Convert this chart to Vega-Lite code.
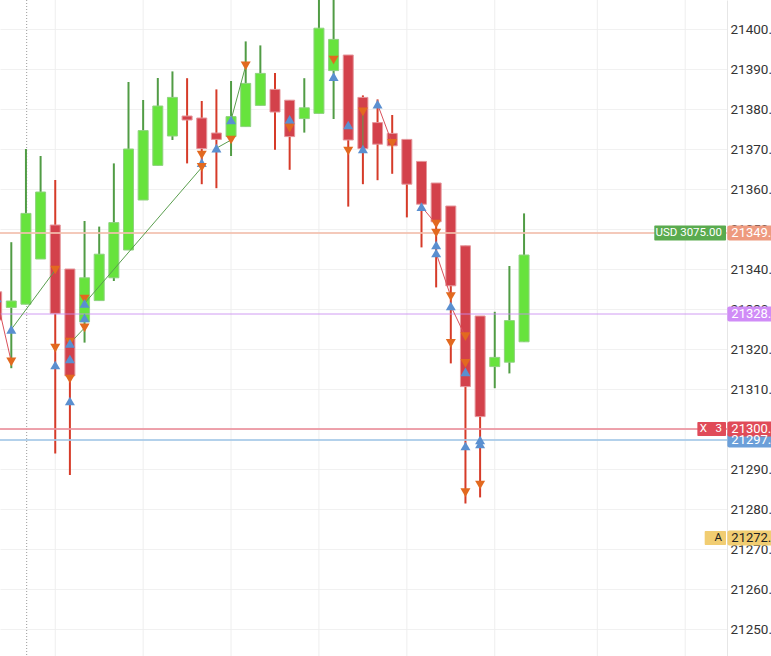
{
  "$schema": "https://vega.github.io/schema/vega-lite/v6.json",
  "description": "Candlestick chart with trade markers and price levels",
  "width": 727,
  "height": 656,
  "autosize": {"type": "none"},
  "padding": {"left": 0, "top": 0, "right": 44, "bottom": 0},
  "background": "white",
  "datasets": {
    "candles": [
      {"i": 0, "o": 21334.3, "h": 21335.5, "l": 21326, "c": 21327.25},
      {"i": 1, "o": 21330.4, "h": 21346.7, "l": 21315.2, "c": 21332},
      {"i": 2, "o": 21331.2, "h": 21370, "l": 21331.2, "c": 21353.9},
      {"i": 3, "o": 21342.5, "h": 21368.25, "l": 21342.5, "c": 21359.25},
      {"i": 4, "o": 21351, "h": 21362.25, "l": 21293.9, "c": 21328.9},
      {"i": 5, "o": 21340, "h": 21340, "l": 21288.5, "c": 21313.3},
      {"i": 6, "o": 21326.8, "h": 21352, "l": 21321.6, "c": 21337.8},
      {"i": 7, "o": 21332.1, "h": 21350.6, "l": 21332.1, "c": 21343.7},
      {"i": 8, "o": 21337.8, "h": 21366.4, "l": 21337, "c": 21351.6},
      {"i": 9, "o": 21344.75, "h": 21386.75, "l": 21344.75, "c": 21370},
      {"i": 10, "o": 21357.25, "h": 21382.25, "l": 21357.25, "c": 21374.6},
      {"i": 11, "o": 21365.9, "h": 21387.75, "l": 21365.9, "c": 21380.75},
      {"i": 12, "o": 21373.25, "h": 21389.4, "l": 21372.25, "c": 21382.9},
      {"i": 13, "o": 21378.25, "h": 21387.7, "l": 21366.4, "c": 21377.25},
      {"i": 14, "o": 21377.75, "h": 21382, "l": 21361.2, "c": 21370.1},
      {"i": 15, "o": 21374, "h": 21384.9, "l": 21360.2, "c": 21372.4},
      {"i": 16, "o": 21373.1, "h": 21387, "l": 21368.25, "c": 21378.1},
      {"i": 17, "o": 21375.6, "h": 21396.9, "l": 21375.6, "c": 21386.4},
      {"i": 18, "o": 21380.9, "h": 21395.9, "l": 21380.9, "c": 21388.9},
      {"i": 19, "o": 21384.9, "h": 21389, "l": 21369.8, "c": 21379.25},
      {"i": 20, "o": 21382.2, "h": 21382.2, "l": 21364.8, "c": 21373.1},
      {"i": 21, "o": 21377.6, "h": 21387.7, "l": 21374.1, "c": 21380.3},
      {"i": 22, "o": 21378.9, "h": 21412, "l": 21378.9, "c": 21400.2},
      {"i": 23, "o": 21389.6, "h": 21413, "l": 21377.5, "c": 21397.4},
      {"i": 24, "o": 21393.5, "h": 21393.5, "l": 21355.6, "c": 21372.25},
      {"i": 25, "o": 21382.9, "h": 21383.4, "l": 21361.2, "c": 21370.1},
      {"i": 26, "o": 21376.6, "h": 21382.4, "l": 21362.2, "c": 21371.2},
      {"i": 27, "o": 21373.9, "h": 21378.5, "l": 21363.8, "c": 21370.8},
      {"i": 28, "o": 21372.4, "h": 21372.4, "l": 21352.9, "c": 21361.2},
      {"i": 29, "o": 21366.9, "h": 21366.9, "l": 21345.4, "c": 21356.2},
      {"i": 30, "o": 21361.5, "h": 21361.5, "l": 21335.4, "c": 21351.8},
      {"i": 31, "o": 21355.75, "h": 21355.75, "l": 21316.4, "c": 21335.8},
      {"i": 32, "o": 21345.8, "h": 21345.8, "l": 21281.4, "c": 21310.6},
      {"i": 33, "o": 21328.25, "h": 21328.25, "l": 21282.9, "c": 21303.1},
      {"i": 34, "o": 21315.6, "h": 21329.3, "l": 21310.2, "c": 21317.9},
      {"i": 35, "o": 21316.7, "h": 21340.75, "l": 21313.9, "c": 21327.1},
      {"i": 36, "o": 21321.8, "h": 21353.9, "l": 21321.8, "c": 21343.5}
    ],
    "fills": [
      {"i": 0, "p": 21332.75, "side": "buy"},
      {"i": 1, "p": 21324.9, "side": "buy"},
      {"i": 1, "p": 21316.8, "side": "sell"},
      {"i": 4, "p": 21339.75, "side": "sell"},
      {"i": 4, "p": 21320.2, "side": "sell"},
      {"i": 4, "p": 21316, "side": "buy"},
      {"i": 5, "p": 21321.75, "side": "sell"},
      {"i": 5, "p": 21321.4, "side": "buy"},
      {"i": 5, "p": 21317.5, "side": "buy"},
      {"i": 5, "p": 21312.5, "side": "sell"},
      {"i": 5, "p": 21307, "side": "buy"},
      {"i": 6, "p": 21332.5, "side": "sell"},
      {"i": 6, "p": 21331.4, "side": "buy"},
      {"i": 6, "p": 21327.8, "side": "buy"},
      {"i": 6, "p": 21325.3, "side": "sell"},
      {"i": 14, "p": 21368.5, "side": "sell"},
      {"i": 14, "p": 21366.6, "side": "buy"},
      {"i": 14, "p": 21365.4, "side": "sell"},
      {"i": 15, "p": 21370.2, "side": "buy"},
      {"i": 16, "p": 21377.25, "side": "buy"},
      {"i": 16, "p": 21372.25, "side": "sell"},
      {"i": 17, "p": 21390.8, "side": "sell"},
      {"i": 20, "p": 21377.4, "side": "buy"},
      {"i": 20, "p": 21375.2, "side": "sell"},
      {"i": 23, "p": 21392.25, "side": "sell"},
      {"i": 23, "p": 21388.1, "side": "buy"},
      {"i": 24, "p": 21376, "side": "buy"},
      {"i": 24, "p": 21369.5, "side": "sell"},
      {"i": 25, "p": 21379.3, "side": "sell"},
      {"i": 25, "p": 21370, "side": "buy"},
      {"i": 26, "p": 21381.2, "side": "buy"},
      {"i": 27, "p": 21371.4, "side": "sell"},
      {"i": 29, "p": 21355.6, "side": "buy"},
      {"i": 30, "p": 21351.25, "side": "sell"},
      {"i": 30, "p": 21349, "side": "sell"},
      {"i": 30, "p": 21346, "side": "buy"},
      {"i": 30, "p": 21344, "side": "buy"},
      {"i": 31, "p": 21333.1, "side": "sell"},
      {"i": 31, "p": 21330.75, "side": "buy"},
      {"i": 31, "p": 21321.4, "side": "sell"},
      {"i": 32, "p": 21323.1, "side": "sell"},
      {"i": 32, "p": 21316.4, "side": "sell"},
      {"i": 32, "p": 21314.3, "side": "buy"},
      {"i": 32, "p": 21295.75, "side": "buy"},
      {"i": 32, "p": 21284.1, "side": "sell"},
      {"i": 33, "p": 21297.25, "side": "buy"},
      {"i": 33, "p": 21296.25, "side": "buy"},
      {"i": 33, "p": 21286, "side": "sell"}
    ],
    "trades": [
      {"id": 1, "i": 0, "p": 21332.75, "result": "loss"},
      {"id": 1, "i": 1, "p": 21316.8, "result": "loss"},
      {"id": 2, "i": 1, "p": 21324.9, "result": "win"},
      {"id": 2, "i": 4, "p": 21339.75, "result": "win"},
      {"id": 3, "i": 5, "p": 21321.4, "result": "win"},
      {"id": 3, "i": 6, "p": 21325.3, "result": "win"},
      {"id": 4, "i": 6, "p": 21331.4, "result": "win"},
      {"id": 4, "i": 14, "p": 21365.4, "result": "win"},
      {"id": 5, "i": 15, "p": 21370.2, "result": "win"},
      {"id": 5, "i": 16, "p": 21372.25, "result": "win"},
      {"id": 6, "i": 16, "p": 21377.25, "result": "win"},
      {"id": 6, "i": 17, "p": 21390.8, "result": "win"},
      {"id": 7, "i": 25, "p": 21379.3, "result": "win"},
      {"id": 7, "i": 25, "p": 21370, "result": "win"},
      {"id": 8, "i": 26, "p": 21381.2, "result": "loss"},
      {"id": 8, "i": 27, "p": 21371.4, "result": "loss"},
      {"id": 9, "i": 29, "p": 21355.6, "result": "loss"},
      {"id": 9, "i": 30, "p": 21351.25, "result": "loss"},
      {"id": 10, "i": 30, "p": 21344, "result": "loss"},
      {"id": 10, "i": 31, "p": 21333.1, "result": "loss"},
      {"id": 11, "i": 31, "p": 21330.75, "result": "loss"},
      {"id": 11, "i": 32, "p": 21323.1, "result": "loss"}
    ],
    "levels": [
      {"p": 21272.75, "kind": "avg", "label": "21272.75"},
      {"p": 21297.25, "kind": "stop", "label": "21297.25"},
      {"p": 21300, "kind": "target", "label": "21300.00"},
      {"p": 21328.75, "kind": "alert", "label": "21328.75"},
      {"p": 21349, "kind": "usd", "label": "21349.00"}
    ],
    "tags": [
      {"p": 21349, "kind": "usd", "tag": "USD 3075.00"},
      {"p": 21300, "kind": "qty", "tag": "X\u00a0\u00a0\u00a03"},
      {"p": 21272.75, "kind": "avg", "tag": "A"}
    ],
    "sessions": [{"i": 4}, {"i": 10}, {"i": 16}, {"i": 22}, {"i": 28}, {"i": 34}, {"i": 41}, {"i": 47}]
  },
  "encoding": {
    "x": {"type": "quantitative", "scale": {"domain": [0.2287, 49.853], "nice": false, "zero": false, "padding": 0}, "axis": null},
    "y": {
      "type": "quantitative",
      "scale": {"domain": [21243.25, 21407.25], "nice": false, "zero": false, "padding": 0},
      "axis": {
        "orient": "right",
        "title": null,
        "values": [21250, 21260, 21270, 21280, 21290, 21300, 21310, 21320, 21330, 21340, 21350, 21360, 21370, 21380, 21390, 21400],
        "format": ".2f",
        "grid": true,
        "gridColor": "#f1f1f1",
        "ticks": false,
        "domainColor": "#e6e6e6",
        "labelFont": "Roboto",
        "labelFontSize": 13.5,
        "labelColor": "#333333",
        "labelPadding": 3,
        "labelOverlap": false,
        "labelFlush": false
      }
    }
  },
  "layer": [
    {
      "data": {"name": "sessions"},
      "mark": {"type": "rule", "color": "#eeeeee", "strokeWidth": 1},
      "encoding": {"x": {"field": "i"}}
    },
    {
      "data": {"name": "sessions"},
      "transform": [{"filter": "datum.i == 4"}],
      "mark": {"type": "rule", "color": "#9a9a9a", "strokeWidth": 1, "strokeDash": [1, 2]},
      "encoding": {"x": {"datum": 2.05}}
    },
    {
      "data": {"name": "candles"},
      "mark": {"type": "rule", "strokeWidth": 2},
      "encoding": {
        "x": {"field": "i"},
        "y": {"field": "l"},
        "y2": {"field": "h"},
        "color": {"condition": {"test": "datum.c >= datum.o", "value": "#519c45"}, "value": "#d63b29"}
      }
    },
    {
      "data": {"name": "candles"},
      "mark": {"type": "bar", "strokeWidth": 1},
      "encoding": {
        "x": {"field": "i"},
        "y": {"field": "o"},
        "y2": {"field": "c"},
        "size": {"value": 10},
        "fill": {"condition": {"test": "datum.c >= datum.o", "value": "#67e33d"}, "value": "#d3414b"},
        "stroke": {"condition": {"test": "datum.c >= datum.o", "value": "#8fd27f"}, "value": "#e5979c"}
      }
    },
    {
      "data": {"name": "levels"},
      "transform": [{"filter": "datum.kind != 'avg'"}],
      "mark": {"type": "rule", "opacity": 0.85},
      "encoding": {
        "y": {"field": "p"},
        "color": {
          "field": "kind",
          "type": "nominal",
          "scale": {"domain": ["stop", "target", "alert", "usd"], "range": ["#a6c9e8", "#eb929d", "#c98cf1", "#f2bfae"]},
          "legend": null
        },
        "strokeWidth": {"condition": {"test": "datum.kind == 'alert'", "value": 1}, "value": 2}
      }
    },
    {
      "data": {"name": "trades"},
      "mark": {"type": "line", "strokeWidth": 1},
      "encoding": {
        "x": {"field": "i"},
        "y": {"field": "p"},
        "detail": {"field": "id"},
        "color": {
          "field": "result",
          "type": "nominal",
          "scale": {"domain": ["win", "loss"], "range": ["#5a9e4e", "#d9505a"]},
          "legend": null
        }
      }
    },
    {
      "data": {"name": "fills"},
      "mark": {"type": "point", "filled": true, "opacity": 1},
      "encoding": {
        "x": {"field": "i"},
        "y": {"field": "p"},
        "shape": {
          "field": "side",
          "type": "nominal",
          "scale": {"domain": ["buy", "sell"], "range": ["triangle-up", "triangle-down"]},
          "legend": null
        },
        "color": {
          "field": "side",
          "type": "nominal",
          "scale": {"domain": ["buy", "sell"], "range": ["#5a8fd0", "#e2691f"]},
          "legend": null
        },
        "size": {"value": 100}
      }
    },
    {
      "data": {"name": "levels"},
      "mark": {"type": "bar", "orient": "horizontal", "cornerRadius": 2},
      "encoding": {
        "x": {"datum": 49.875},
        "x2": {"datum": 53.5},
        "y": {"field": "p"},
        "size": {"value": 15},
        "color": {
          "field": "kind",
          "type": "nominal",
          "scale": {"domain": ["avg", "stop", "target", "alert", "usd"], "range": ["#f1cd72", "#6b9fd9", "#e04b58", "#d08cf7", "#ee9a7f"]},
          "legend": null
        }
      }
    },
    {
      "data": {"name": "levels"},
      "mark": {"type": "text", "align": "left", "baseline": "middle", "dx": 4, "font": "Roboto", "fontSize": 13},
      "encoding": {
        "x": {"datum": 49.875},
        "y": {"field": "p"},
        "text": {"field": "label"},
        "color": {"condition": {"test": "datum.kind == 'avg'", "value": "#222222"}, "value": "white"}
      }
    },
    {
      "data": {"name": "tags"},
      "transform": [{"filter": "datum.kind == 'usd'"}],
      "mark": {"type": "bar", "orient": "horizontal", "color": "#5aab4f", "cornerRadius": 1},
      "encoding": {"x": {"datum": 44.89}, "x2": {"datum": 49.785}, "y": {"field": "p"}, "size": {"value": 15}}
    },
    {
      "data": {"name": "tags"},
      "transform": [{"filter": "datum.kind == 'qty'"}],
      "mark": {"type": "bar", "orient": "horizontal", "color": "#e04b58", "cornerRadius": 1},
      "encoding": {"x": {"datum": 47.83}, "x2": {"datum": 49.785}, "y": {"field": "p"}, "size": {"value": 14}}
    },
    {
      "data": {"name": "tags"},
      "transform": [{"filter": "datum.kind == 'avg'"}],
      "mark": {"type": "bar", "orient": "horizontal", "color": "#f1cd72", "cornerRadius": 1},
      "encoding": {"x": {"datum": 48.33}, "x2": {"datum": 49.785}, "y": {"field": "p"}, "size": {"value": 14}}
    },
    {
      "data": {"name": "tags"},
      "mark": {"type": "text", "align": "right", "baseline": "middle", "dx": -4, "font": "Roboto", "fontSize": 11.5},
      "encoding": {
        "x": {"datum": 49.785},
        "y": {"field": "p"},
        "text": {"field": "tag"},
        "color": {"condition": {"test": "datum.kind == 'avg'", "value": "#222222"}, "value": "white"}
      }
    }
  ],
  "resolve": {"scale": {"color": "independent", "shape": "independent"}},
  "config": {"view": {"stroke": null}}
}
